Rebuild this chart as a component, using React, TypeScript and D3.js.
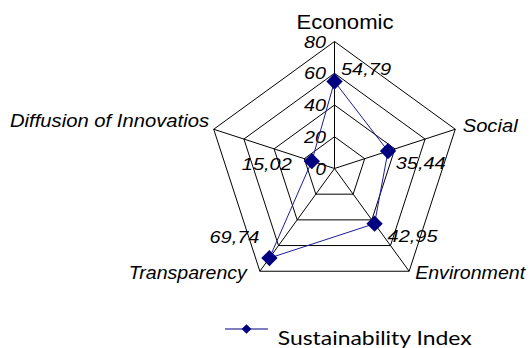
import React from "react";
import * as d3 from "d3";

const categories = ["Economic", "Social", "Environment", "Transparency", "Diffusion of Innovatios"];
const values = [54.79, 35.44, 42.95, 69.74, 15.02];
const valueLabels = ["54,79", "35,44", "42,95", "69,74", "15,02"];
const ticks = [0, 20, 40, 60, 80];
const seriesName = "Sustainability Index";

const W = 531, H = 348;
const cx = 334.5, cy = 168.5, R = 127;
const italicFont = "'Liberation Sans', Arial, sans-serif";

// label layout (offsets relative to vertex / point)
const catLayout = [
  { dx: 10.5, dy: -13, anchor: "middle", w: 97, size: 19.5, italic: false },
  { dx: 7.4, dy: 3, anchor: "start", w: 55, size: 17.5, italic: true },
  { dx: 6, dy: 8, anchor: "start", w: 110, size: 17.5, italic: true },
  { dx: -13, dy: 8, anchor: "end", w: 118, size: 17.5, italic: true },
  { dx: -4.7, dy: -2.6, anchor: "end", w: 199, size: 17.5, italic: true },
];
const valLayout = [
  { dx: 6.5, dy: -6.5, anchor: "start" },
  { dx: 7.7, dy: 18, anchor: "start" },
  { dx: 13, dy: 18, anchor: "start" },
  { dx: -10, dy: -15.5, anchor: "end" },
  { dx: -20, dy: 9, anchor: "end" },
];

export default function App() {
  const r = d3.scaleLinear().domain([0, 80]).range([0, R]);
  const angle = (i: number) => (i * 2 * Math.PI) / categories.length;
  const pt = (i: number, v: number): [number, number] => [
    cx + r(v) * Math.sin(angle(i)),
    cy - r(v) * Math.cos(angle(i)),
  ];
  const line = d3.line<[number, number]>().curve(d3.curveLinearClosed);
  const dataPts = values.map((v, i) => pt(i, v));
  const diamond = d3.symbol().type(d3.symbolDiamond2);

  return (
    <svg width={W} height={H} style={{ position: "absolute", left: 0, top: 0, background: "#fff" }}>
      {/* grid */}
      {ticks.filter((t) => t > 0).map((t) => (
        <path key={t} d={line(categories.map((_, i) => pt(i, t))) || ""} fill="none" stroke="#000" strokeWidth={1} />
      ))}
      {categories.map((_, i) => {
        const [x, y] = pt(i, 80);
        return <line key={i} x1={cx} y1={cy} x2={x} y2={y} stroke="#000" strokeWidth={1} />;
      })}
      {/* tick labels */}
      {ticks.map((t) => (
        <text key={t} x={cx - 8.5} y={cy - r(t) + 6} textAnchor="end" fontFamily={italicFont}
          fontStyle="italic" fontSize={17} textLength={t === 0 ? 10.5 : 22} lengthAdjust="spacingAndGlyphs" fill="#000">
          {t}
        </text>
      ))}
      {/* series */}
      <path d={line(dataPts) || ""} fill="none" stroke="#1c1c9c" strokeWidth={1} />
      {dataPts.map(([x, y], i) => (
        <path key={i} transform={`translate(${x},${y})`} d={diamond.size(170)() || ""} fill="#000080" />
      ))}
      {/* value labels */}
      {dataPts.map(([x, y], i) => (
        <text key={i} x={x + valLayout[i].dx} y={y + valLayout[i].dy} textAnchor={valLayout[i].anchor}
          fontFamily={italicFont} fontStyle="italic" fontSize={17} textLength={50}
          lengthAdjust="spacingAndGlyphs" fill="#000">
          {valueLabels[i]}
        </text>
      ))}
      {/* category labels */}
      {categories.map((c, i) => {
        const [x, y] = pt(i, 80);
        const L = catLayout[i];
        return (
          <text key={c} x={x + L.dx} y={y + L.dy} textAnchor={L.anchor}
            fontFamily={italicFont} fontStyle={L.italic ? "italic" : "normal"} fontSize={L.size}
            textLength={L.w} lengthAdjust="spacingAndGlyphs" fill="#000">
            {c}
          </text>
        );
      })}
      {/* legend */}
      <line x1={225} y1={329} x2={268} y2={329} stroke="#5555aa" strokeWidth={1.5} />
      <path transform="translate(246.5,329)" d={diamond.size(60)() || ""} fill="#000080" />
      <text x={277.7} y={345} fontFamily="Lato, 'Open Sans', sans-serif" fontSize={20} textLength={194}
        lengthAdjust="spacingAndGlyphs" fill="#000">
        {seriesName}
      </text>
    </svg>
  );
}
